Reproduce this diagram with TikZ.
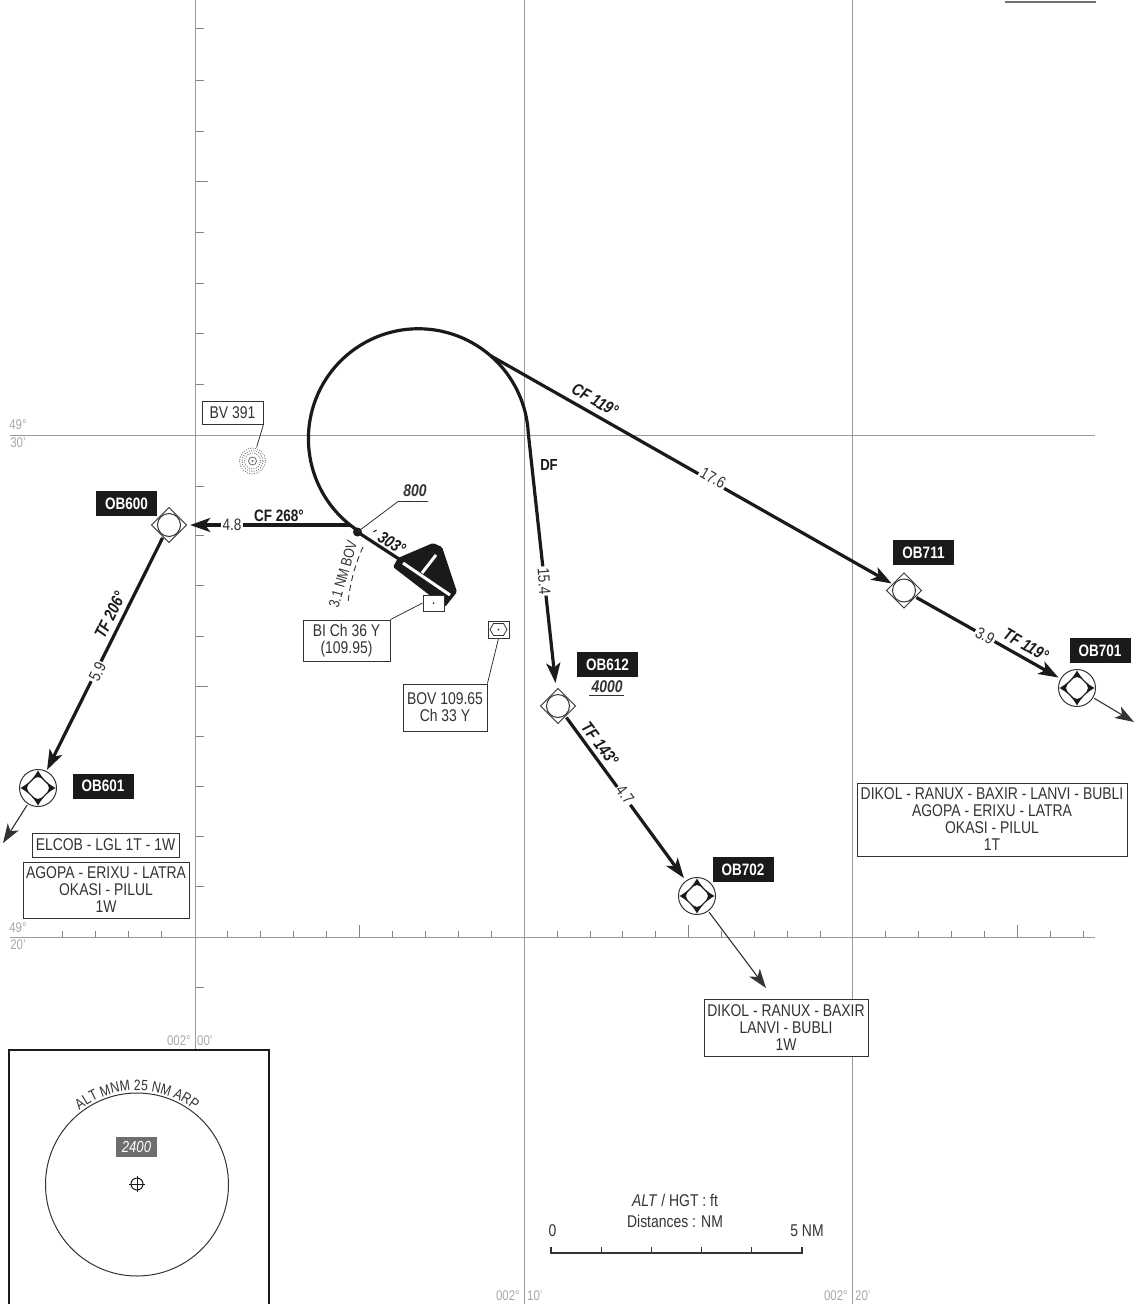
\documentclass[tikz,border=0pt]{standalone}
\usepackage{fontspec}
\setmainfont{Liberation Sans}[FakeStretch=0.82]
\usetikzlibrary{arrows.meta,decorations.text,shapes.geometric,calc}
\definecolor{gridc}{HTML}{9A9A9A}
\definecolor{inkc}{HTML}{333333}
\definecolor{coordc}{HTML}{A8A8A8}
\definecolor{tagc}{HTML}{1A1A1A}
\definecolor{mnmc}{HTML}{6E6E6E}
\tikzset{
  gridline/.style={draw=gridc,line width=1pt},
  tick/.style={draw=gridc!85!black,line width=0.8pt},
  route/.style={draw=tagc,line width=3.2pt,line cap=butt},
  tiproute/.style={route,-{Stealth[length=20pt,width=14pt,inset=5pt]}},
  exit/.style={draw=inkc,line width=1.1pt,-{Stealth[length=19pt,width=13pt,inset=5pt]}},
  leader/.style={draw=inkc,line width=0.8pt},
  txt/.style={font=\fontsize{17}{17}\selectfont,text=inkc,inner sep=0pt,align=center},
  coordt/.style={font=\fontsize{14}{15}\selectfont,text=coordc,inner sep=0pt},
  tag/.style={fill=tagc,text=white,font=\fontsize{16.5}{17}\selectfont\bfseries,inner sep=0pt,minimum width=61pt,minimum height=25pt},
  bx/.style={draw=inkc,line width=0.9pt,fill=white,txt,minimum width=#1},
  dist/.style={fill=white,text=inkc,font=\fontsize{16.5}{17}\selectfont,inner sep=1.5pt},
  brg/.style={text=tagc,font=\fontsize{17}{17}\selectfont\bfseries\itshape,inner sep=0pt},
  wpb/.style={circle,inner sep=0pt,minimum size=28pt},
  wpo/.style={circle,inner sep=0pt,minimum size=40pt},
}
\newcommand{\flybywp}[3]{%
  \node[wpb] (#1) at (#2,#3) {};
  \begin{scope}[shift={(#2,#3)}]
    \draw[inkc,line width=0.9pt,line join=miter,fill=white] (17.5,0)--(0,17.5)--(-17.5,0)--(0,-17.5)--cycle;
    \draw[inkc,line width=0.8pt] (9.5,-6.5)--(9.5,6.5) (-9.5,-6.5)--(-9.5,6.5) (-6.5,9.5)--(6.5,9.5) (-6.5,-9.5)--(6.5,-9.5);
    \draw[inkc,line width=1pt,fill=white] (0,0) circle[radius=11.5pt];
  \end{scope}}
\newcommand{\flyoverwp}[3]{%
  \node[wpo] (#1) at (#2,#3) {};
  \begin{scope}[shift={(#2,#3)}]
    \draw[inkc,line width=1pt,fill=white] (0,0) circle[radius=18.5pt];
    \fill[tagc] (0,17.5) .. controls (4,10) and (10,4) .. (17.5,0) .. controls (10,-4) and (4,-10) .. (0,-17.5) .. controls (-4,-10) and (-10,-4) .. (-17.5,0) .. controls (-10,4) and (-4,10) .. (0,17.5) -- cycle;
    \fill[white,rounded corners=5pt] (13,0)--(0,13)--(-13,0)--(0,-13)--cycle;
  \end{scope}}
\begin{document}
\begin{tikzpicture}[x=1pt,y=1pt]
\useasboundingbox (0,-1304) rectangle (1136,0);
% graticule
\draw[gridline] (10,-435.5) -- (1095,-435.5);
\draw[gridline] (10,-937) -- (1095,-937);
\draw[gridline] (195,0) -- (195,-1050);
\draw[gridline] (524.5,0) -- (524.5,-1304);
\draw[gridline] (852.5,0) -- (852.5,-1304);
\foreach \y in {28,80,131,232,283,333,384,486,535,585,636,736,786,836,886,987}
  \draw[tick] (196,-\y) -- (204,-\y);
\foreach \y in {181,686}
  \draw[tick] (196,-\y) -- (208,-\y);
\foreach \x in {62,95,128,161,227,260,293,326,392,425,458,491,557,590,622,655,721,754,787,820,885,918,951,984,1050,1083}
  \draw[tick] (\x,-937) -- (\x,-931);
\foreach \x in {359,688,1017}
  \draw[tick] (\x,-937) -- (\x,-925);
\draw[inkc!70,line width=1.3pt] (1005,-2) -- (1096,-2);
\node[coordt] (lat1a) at (18,-425) {49°};
\node[coordt] (lat1b) at (18,-443) {30'};
\node[coordt] (lat2a) at (18,-928) {49°};
\node[coordt] (lat2b) at (18,-945) {20'};
\node[coordt,anchor=east] (lon1a) at (191,-1041) {002°};
\node[coordt,anchor=west] (lon1b) at (197,-1041) {00'};
\node[coordt,anchor=east] (lon2a) at (520,-1296) {002°};
\node[coordt,anchor=west] (lon2b) at (527,-1296) {10'};
\node[coordt,anchor=east] (lon3a) at (848,-1296) {002°};
\node[coordt,anchor=west] (lon3b) at (855,-1296) {20'};
% waypoints
\flybywp{ob600}{169}{-525}
\flybywp{ob711}{904}{-590.5}
\flybywp{ob612}{558}{-706}
\flyoverwp{ob601}{38}{-788}
\flyoverwp{ob701}{1077}{-688}
\flyoverwp{ob702}{697}{-896}
\node[tag] (t600) at (126.5,-503.5) {OB600};
\node[tag] (t601) at (103,-786) {OB601};
\node[tag] (t711) at (923.5,-552.5) {OB711};
\node[tag] (t701) at (1100,-650.5) {OB701};
\node[tag] (t612) at (607.5,-664.5) {OB612};
\node[tag] (t702) at (743,-869.5) {OB702};
% airport
\fill[tagc,rounded corners=1.5pt] (398,-558)--(433,-543)--(442,-547)--(457,-592)--(445,-607)--(393,-567)--cycle;
\draw[white,line width=3pt] (403,-563)--(450,-595);
\draw[white,line width=3pt] (436,-555)--(422,-573);
% route
\coordinate (fix) at (357.5,-532);
\coordinate (arcs) at (358.5,-531);
\coordinate (cf268s) at (350,-525);
\coordinate (rwy) at (402,-561);
\draw[route] (arcs) arc[start angle=237,end angle=49,radius=110pt] coordinate (s1) arc[start angle=49,end angle=3,radius=110pt] coordinate (s2);
\draw[route] (fix) -- (rwy);
\draw[tiproute,shorten >=7pt] (cf268s) -- (ob600);
\draw[tiproute] (s1) -- (ob711);
\draw[tiproute,shorten >=9pt] (s2) -- (ob612);
\draw[tiproute] (ob600) -- (ob601);
\draw[tiproute,shorten >=1pt] (ob711) -- (ob701);
\draw[tiproute,shorten >=2pt] (ob612) -- (ob702);
\coordinate (ex601) at (3,-843);
\coordinate (ex701) at (1134,-722);
\coordinate (ex702) at (766,-988);
\draw[exit] (ob601) -- (ex601);
\draw[exit] (ob701) -- (ex701);
\draw[exit] (ob702) -- (ex702);
\fill[tagc] (fix) circle[radius=4.5pt];
% route labels
\node[dist] (d48) at (232,-525) {4.8};
\node[brg,font=\fontsize{16.5}{17}\selectfont\bfseries] (b268) at (279,-515.5) {CF 268°};
\node[dist,rotate=64] (d59) at (97.5,-672) {5.9};
\node[brg,rotate=64] (b206) at (110,-615) {TF 206°};
\node[brg,rotate=-30] (b119a) at (595,-400) {CF 119°};
\node[dist,rotate=-30] (d176) at (713,-478) {17.6};
\node[dist,rotate=-30] (d39) at (985,-636) {3.9};
\node[brg,rotate=-30] (b119b) at (1026,-645) {TF 119°};
\node[dist,rotate=-86] (d154) at (544,-581) {15.4};
\node[brg,font=\fontsize{16}{17}\selectfont\bfseries] (bdf) at (549,-465) {DF};
\node[brg,rotate=-53] (b143) at (600,-744) {TF 143°};
\node[dist,rotate=-53] (d47) at (625,-795) {4.7};
\node[brg,rotate=-33] (b303) at (392,-543) {303°};
\draw[tagc,line width=1pt] (373.5,-532)--(376.5,-530);
% 800 altitude
\node[brg,text=inkc] (a800) at (415,-491) {800};
\coordinate (u800a) at (398,-501.5);
\coordinate (u800b) at (428,-501.5);
\draw[leader] (fix) -- (u800a) -- (u800b);
% 4000 altitude
\node[brg,text=inkc] (a4000) at (607,-686.5) {4000};
\coordinate (u4a) at (589,-695);
\coordinate (u4b) at (624,-695);
\draw[leader] (u4a) -- (u4b);
% DME arc
\coordinate (dmea) at (363,-547);
\coordinate (dmeb) at (348,-603);
\draw[inkc,line width=0.9pt,dash pattern=on 6pt off 4pt] (dmea) .. controls (356,-562) and (350,-582) .. (dmeb);
\node[txt,font=\fontsize{15}{15}\selectfont,rotate=74] (dmet) at (343,-574) {3.1 NM BOV};
% navaids and boxes
\node[draw=inkc,line width=0.9pt,fill=white,inner sep=0pt,minimum width=21pt,minimum height=16pt] (biant) at (433.5,-603) {};
\fill[inkc] (biant.center) circle[radius=1pt];
\node[draw=inkc,line width=0.9pt,fill=white,inner sep=0pt,minimum width=21pt,minimum height=17pt] (bovant) at (498.5,-629.5) {};
\draw[inkc,line width=0.8pt] (490,-629.5)--(493.5,-623.5)--(503.5,-623.5)--(507,-629.5)--(503.5,-635.5)--(493.5,-635.5)--cycle;
\fill[inkc] (bovant.center) circle[radius=1pt];
\node[bx=87pt,minimum height=41pt] (bi) at (346.5,-640.5) {BI Ch 36 Y\\(109.95)};
\node[bx=84pt,minimum height=47pt] (bov) at (445,-707.5) {BOV 109.65\\Ch 33 Y};
\draw[leader] (bi.north east) -- (biant.west);
\draw[leader] (bovant.south) -- (bov.north east);
\node[bx=61pt,minimum height=23pt] (bv) at (232.5,-412.5) {BV 391};
\node[circle,inner sep=0pt,minimum size=28pt] (obst) at (252.5,-461) {};
\foreach \r in {13,10.5,8}
  \draw[gridc!70!black,line width=0.8pt,dash pattern=on 1pt off 1.4pt] (obst.center) circle[radius=\r pt];
\draw[gridc!70!black,line width=0.8pt] (obst.center) circle[radius=4pt];
\fill[gridc!70!black] (obst.center) circle[radius=1.2pt];
\draw[leader] (bv.south east) -- (obst);
\node[bx=147pt,minimum height=24pt] (b1) at (105.5,-845) {ELCOB - LGL 1T - 1W};
\node[bx=166pt,minimum height=56pt] (b2) at (106,-890) {AGOPA - ERIXU - LATRA\\OKASI - PILUL\\1W};
\node[bx=270pt,minimum height=73pt] (b3) at (992,-819.5) {DIKOL - RANUX - BAXIR - LANVI - BUBLI\\AGOPA - ERIXU - LATRA\\OKASI - PILUL\\1T};
\node[bx=164pt,minimum height=57pt] (b4) at (786,-1027.5) {DIKOL - RANUX - BAXIR\\LANVI - BUBLI\\1W};
% inset
\draw[tagc,line width=1.6pt] (9,-1304) -- (9,-1050) -- (269,-1050) -- (269,-1304);
\node[circle,draw=inkc,line width=1pt,inner sep=0pt,minimum size=183pt] (msa) at (137,-1184.5) {};
\path[decorate,decoration={text along path,text align=center,text color=inkc,text={|\fontsize{15}{15}\selectfont|ALT MNM 25 NM ARP}}]
  ($(137,-1184.5)+(133:94)$) arc[start angle=133,end angle=47,radius=94pt];
\node[fill=mnmc,text=white,font=\fontsize{16}{16}\selectfont\itshape,inner sep=0pt,minimum width=41pt,minimum height=20pt] (msaalt) at (136.5,-1147) {2400};
\node[circle,draw=tagc,line width=1pt,inner sep=0pt,minimum size=12pt] (arp) at (137,-1184) {};
\draw[tagc,line width=1pt] (129,-1184)--(145,-1184) (137,-1176)--(137,-1192);
% scale
\node[txt] (s1t) at (675,-1200) {\textit{ALT} / HGT : ft};
\node[txt] (s2t) at (675,-1221) {Distances : NM};
\node[txt] (s0) at (552.5,-1231) {0};
\node[txt] (s5) at (807,-1231) {5 NM};
\draw[inkc,line width=1.3pt] (551,-1247) -- (551,-1253) -- (802,-1253) -- (802,-1247);
\foreach \x in {601,651,701,751}
  \draw[inkc,line width=1pt] (\x,-1253) -- (\x,-1247);
\end{tikzpicture}
\end{document}
